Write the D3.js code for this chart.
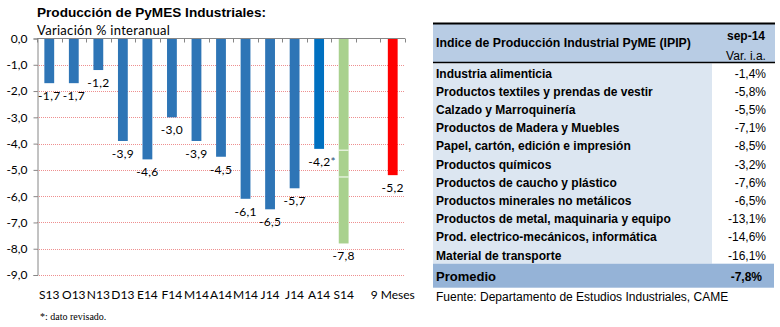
<!DOCTYPE html>
<html>
<head>
<meta charset="utf-8">
<script src="https://cdn.jsdelivr.net/npm/d3@7"></script>
<style>
    body { margin: 0; background: #fff; }
    svg { display: block; }
</style>
</head>
<body>
<script>
// chart data
var periods = ["S13", "O13", "N13", "D13", "E14", "F14", "M14", "A14", "M14", "J14", "J14", "A14", "S14", "", "9 Meses"];
var variation = [-1.7, -1.7, -1.2, -3.9, -4.6, -3.0, -3.9, -4.5, -6.1, -6.5, -5.7, -4.2, -7.8, null, -5.2];
var notes = ["", "", "", "", "", "", "", "", "", "", "", "*", "", "", ""];
var yTicks = [0, -1, -2, -3, -4, -5, -6, -7, -8, -9];

// table data
var sectors = [
    "Industria alimenticia",
    "Productos textiles y prendas de vestir",
    "Calzado y Marroquinería",
    "Productos de Madera y Muebles",
    "Papel, cartón, edición e impresión",
    "Productos químicos",
    "Productos de caucho y plástico",
    "Productos minerales no metálicos",
    "Productos de metal, maquinaria y equipo",
    "Prod. electrico-mecánicos, informática",
    "Material de transporte"
];
var sectorVar = [-1.4, -5.8, -5.5, -7.1, -8.5, -3.2, -7.6, -6.5, -13.1, -14.6, -16.1];
var averageVar = -7.8;

var width = 780;
var height = 327;

var svg = d3.select('body')
    .append('svg')
    .attr('width', width)
    .attr('height', height);

// spanish style numbers with a plain hyphen
var locale = d3.formatLocale({ decimal: ",", thousands: ".", grouping: [3], currency: ["$", ""], minus: "-" });
var comma = locale.format(".1f");

// ---------- bar chart ----------
var x = d3.scaleBand()
    .domain(d3.range(periods.length))
    .range([37, 405]);
var y = d3.scaleLinear()
    .domain([-9, 0])
    .range([275, 38.5]);

var barColor = function (i) {
    if (periods[i] == "9 Meses") return "#FF0000";
    if (i == 12) return "#A9D18E";
    if (notes[i] == "*") return "#0070C0";
    return "#2E75B6";
};

svg.append("text")
    .attr("x", 37)
    .attr("y", 17)
    .attr("font-family", "Liberation Sans, Arial, sans-serif")
    .attr("font-weight", "bold")
    .attr("font-size", 13)
    .attr("textLength", 229)
    .attr("lengthAdjust", "spacingAndGlyphs")
    .text("Producción de PyMES Industriales:");

svg.append("text")
    .attr("x", 37)
    .attr("y", 35)
    .attr("font-family", "Lato, sans-serif")
    .attr("font-size", 13)
    .attr("letter-spacing", 0.3)
    .text("Variación % interanual");

// gridlines
svg.append("g")
    .selectAll("line")
    .data(yTicks.filter(d => d < 0))
    .enter()
    .append("line")
    .attr("x1", 37)
    .attr("x2", 405)
    .attr("y1", d => Math.round(y(d)) + 0.5)
    .attr("y2", d => Math.round(y(d)) + 0.5)
    .attr("stroke", "#EE8F8F")
    .attr("stroke-dasharray", "1,1");

// y axis
var yAxis = svg.append("g")
    .attr("transform", "translate(37.5,0)")
    .call(d3.axisLeft(y).tickValues(yTicks).tickSize(4).tickPadding(6).tickFormat(comma));
yAxis.select(".domain").attr("stroke", "#868686");
yAxis.selectAll(".tick line").attr("stroke", "#868686");
yAxis.selectAll("text")
    .attr("font-family", "Lato, sans-serif")
    .attr("font-size", 12)
    .attr("fill", "#000");

// bars
var bw = x.bandwidth() * 0.4;
var bars = svg.append("g");
bars.selectAll("rect")
    .data(variation.map((v, i) => ({ v: v, i: i })).filter(d => d.v != null))
    .enter()
    .append("rect")
    .attr("x", d => x(d.i) + (x.bandwidth() - bw) / 2)
    .attr("y", y(0))
    .attr("width", bw)
    .attr("height", d => y(d.v) - y(0))
    .attr("fill", d => barColor(d.i));

// white breaks on S14 bar
bars.selectAll("line.brk")
    .data([-4.25, -5.27])
    .enter()
    .append("line")
    .attr("x1", x(12) + (x.bandwidth() - bw) / 2)
    .attr("x2", x(12) + (x.bandwidth() + bw) / 2)
    .attr("y1", d => y(d))
    .attr("y2", d => y(d))
    .attr("stroke", "#fff")
    .attr("stroke-width", 1);

// category axis at zero with ticks between categories
var zy = Math.round(y(0)) - 0.5;
svg.append("line")
    .attr("x1", 37).attr("x2", 405)
    .attr("y1", zy).attr("y2", zy)
    .attr("stroke", "#868686");
svg.append("g")
    .selectAll("line")
    .data(d3.range(periods.length + 1))
    .enter()
    .append("line")
    .attr("x1", d => Math.round(x(0) + d * x.bandwidth()) + 0.5)
    .attr("x2", d => Math.round(x(0) + d * x.bandwidth()) + 0.5)
    .attr("y1", zy)
    .attr("y2", zy + 4)
    .attr("stroke", "#868686");

// value labels
svg.append("g")
    .selectAll("text")
    .data(variation.map((v, i) => ({ v: v, i: i })).filter(d => d.v != null))
    .enter()
    .append("text")
    .attr("x", d => x(d.i) + x.bandwidth() / 2 + (notes[d.i] ? 3 : 0))
    .attr("y", d => y(d.v) + 17)
    .attr("text-anchor", "middle")
    .attr("font-family", "Lato, sans-serif")
    .attr("font-size", 12)
    .attr("letter-spacing", 0.3)
    .text(d => comma(d.v))
    .append("tspan")
    .attr("fill", "#1F4E79")
    .text(d => notes[d.i]);

// category labels
svg.append("g")
    .selectAll("text")
    .data(periods)
    .enter()
    .append("text")
    .attr("x", (d, i) => x(i) + x.bandwidth() / 2)
    .attr("y", 299)
    .attr("text-anchor", "middle")
    .attr("font-family", "Lato, sans-serif")
    .attr("font-size", 12)
    .text(d => d);

svg.append("text")
    .attr("x", 40)
    .attr("y", 320)
    .attr("font-family", "Liberation Serif, Times New Roman, serif")
    .attr("font-size", 10)
    .text("*: dato revisado.");

// ---------- table ----------
var tx = 433, tw = 342, valColX = 712, rowH = 18.2, rowTop = 63.5;
var tfont = "Liberation Sans, Arial, sans-serif";
var pct = function (v) { return comma(v) + "%"; };

svg.append("rect")
    .attr("x", tx).attr("y", 24)
    .attr("width", tw).attr("height", 38)
    .attr("fill", "#B8CCE4");
svg.append("rect")
    .attr("x", tx).attr("y", rowTop)
    .attr("width", valColX - tx).attr("height", rowH * sectors.length)
    .attr("fill", "#DCE6F1");
svg.append("rect")
    .attr("x", tx).attr("y", rowTop + rowH * sectors.length)
    .attr("width", tw - 1).attr("height", 24)
    .attr("fill", "#95B3D7");

svg.append("line")
    .attr("x1", tx).attr("x2", tx + tw)
    .attr("y1", 23.5).attr("y2", 23.5)
    .attr("stroke", "#000").attr("stroke-width", 2);
svg.append("line")
    .attr("x1", tx).attr("x2", tx + tw)
    .attr("y1", 62.5).attr("y2", 62.5)
    .attr("stroke", "#000").attr("stroke-width", 1.5);

svg.append("text")
    .attr("x", 436).attr("y", 47)
    .attr("font-family", tfont).attr("font-weight", "bold").attr("font-size", 12.3)
    .text("Indice de Producción Industrial PyME (IPIP)");
svg.append("text")
    .attr("x", 746).attr("y", 40)
    .attr("text-anchor", "middle")
    .attr("font-family", tfont).attr("font-weight", "bold").attr("font-size", 12)
    .text("sep-14");
svg.append("text")
    .attr("x", 746).attr("y", 60)
    .attr("text-anchor", "middle")
    .attr("font-family", tfont).attr("font-size", 12)
    .text("Var. i.a.");

var rows = svg.append("g");
rows.selectAll("text.name")
    .data(sectors)
    .enter()
    .append("text")
    .attr("class", "name")
    .attr("x", 436)
    .attr("y", (d, i) => rowTop + rowH * i + 14)
    .attr("font-family", tfont).attr("font-weight", "bold").attr("font-size", 12)
    .text(d => d);
rows.selectAll("text.val")
    .data(sectorVar)
    .enter()
    .append("text")
    .attr("class", "val")
    .attr("x", 766)
    .attr("y", (d, i) => rowTop + rowH * i + 14)
    .attr("text-anchor", "end")
    .attr("font-family", tfont).attr("font-size", 12)
    .text(d => pct(d));

var avgY = rowTop + rowH * sectors.length;
svg.append("text")
    .attr("x", 436).attr("y", avgY + 17)
    .attr("font-family", tfont).attr("font-weight", "bold").attr("font-size", 13)
    .text("Promedio");
svg.append("text")
    .attr("x", 762).attr("y", avgY + 17)
    .attr("text-anchor", "end")
    .attr("font-family", tfont).attr("font-weight", "bold").attr("font-size", 12)
    .text(pct(averageVar));

svg.append("text")
    .attr("x", 436).attr("y", 301)
    .attr("font-family", tfont).attr("font-size", 12)
    .text("Fuente: Departamento de Estudios Industriales, CAME");
</script>
</body>
</html>
